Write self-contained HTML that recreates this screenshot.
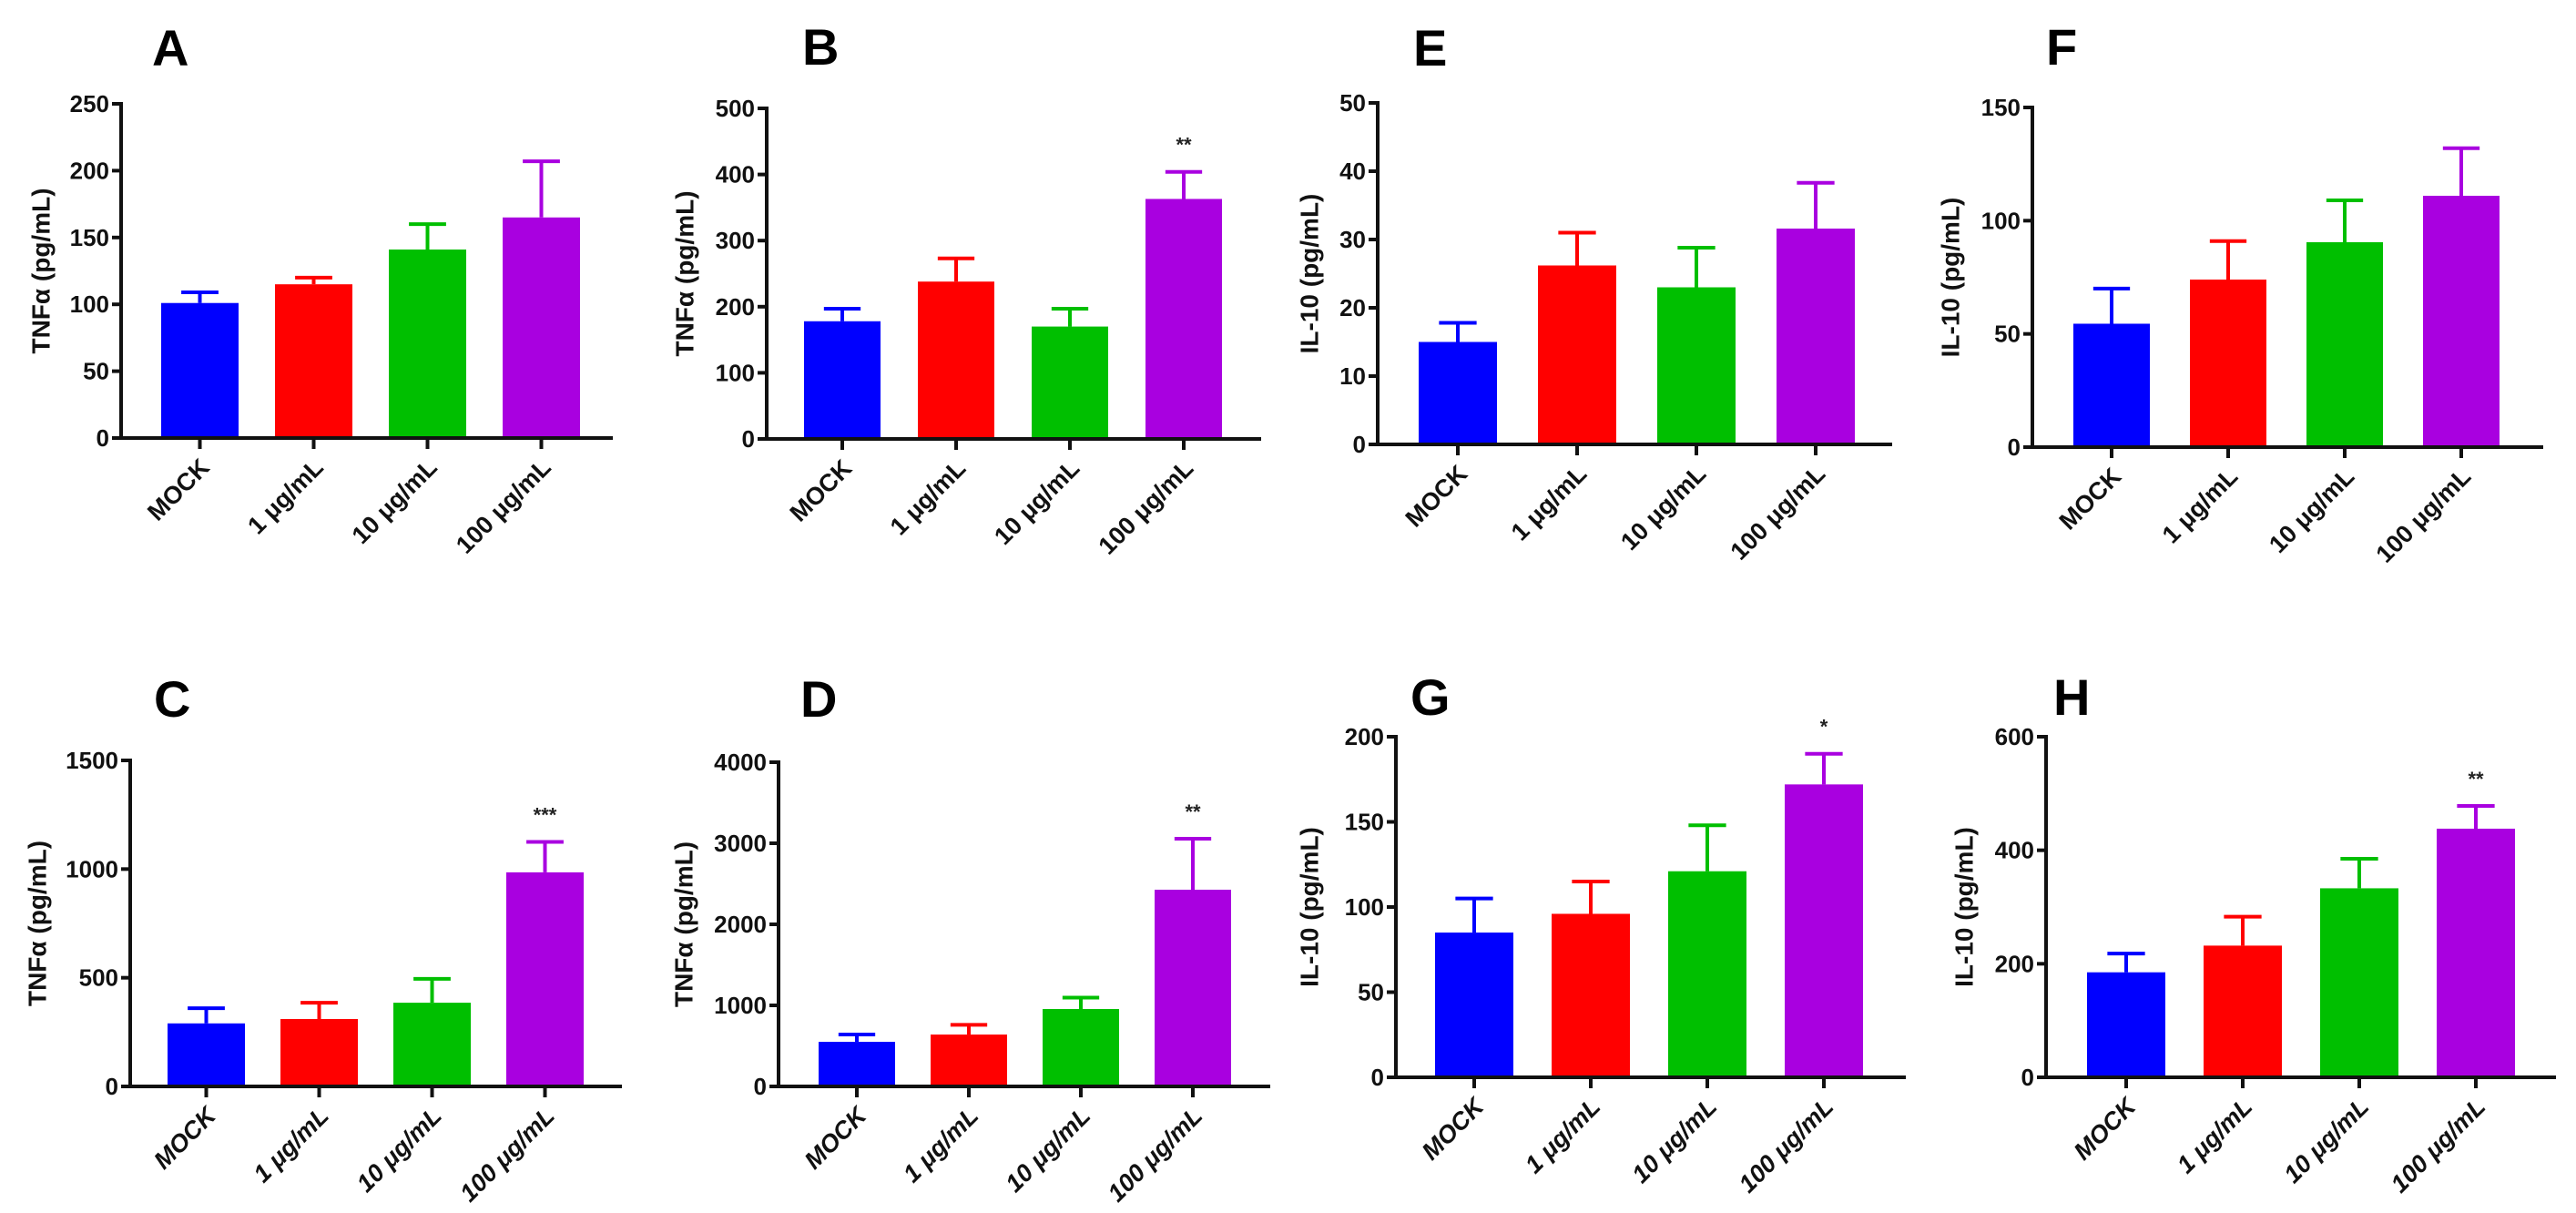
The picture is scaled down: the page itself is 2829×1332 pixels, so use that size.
<!DOCTYPE html>
<html><head><meta charset="utf-8">
<style>
html,body{margin:0;padding:0;background:#fff;}
svg{display:block;font-family:"Liberation Sans",Arial,sans-serif;}
.tick{font-size:26px;font-weight:bold;fill:#111;}
.ytitle{font-size:28px;font-weight:bold;fill:#111;}
.xl{font-size:27px;font-weight:bold;fill:#111;}
.xli{font-size:27px;font-weight:bold;font-style:italic;fill:#111;}
.letter{font-size:56px;font-weight:bold;fill:#000;}
.star{font-size:22px;font-weight:bold;fill:#222;}
</style></head>
<body>
<svg id="fig" width="2829" height="1332" viewBox="0 0 2829 1332" xmlns="http://www.w3.org/2000/svg"></svg>
<script>
const categories = ["MOCK", "1 μg/mL", "10 μg/mL", "100 μg/mL"];
const colors = ["#0000ff", "#ff0000", "#00bf00", "#a900e0"];
const meanA = [101, 115, 141, 165];
const errA  = [109, 120, 160, 207];
const meanB = [178, 238, 170, 363];
const errB  = [197, 273, 197, 404];
const meanC = [290, 310, 385, 985];
const errC  = [360, 385, 495, 1125];
const meanD = [550, 640, 955, 2427];
const errD  = [640, 760, 1095, 3056];
const meanE = [15, 26.2, 23, 31.6];
const errE  = [17.8, 31, 28.8, 38.3];
const meanF = [54.5, 74, 90.5, 111];
const errF  = [70, 91, 109, 132];
const meanG = [85, 96, 121, 172];
const errG  = [105, 115, 148, 190];
const meanH = [185, 232, 333, 438];
const errH  = [218, 283, 385, 478];
const ticksA = [0, 50, 100, 150, 200, 250];
const ticksB = [0, 100, 200, 300, 400, 500];
const ticksC = [0, 500, 1000, 1500];
const ticksD = [0, 1000, 2000, 3000, 4000];
const ticksE = [0, 10, 20, 30, 40, 50];
const ticksF = [0, 50, 100, 150];
const ticksG = [0, 50, 100, 150, 200];
const ticksH = [0, 200, 400, 600];
const starsA = "", starsB = "**", starsC = "***", starsD = "**", starsE = "", starsF = "", starsG = "*", starsH = "**";

const panels = [
 {id:"A", mean:meanA, err:errA, ticks:ticksA, stars:starsA, title:"TNFα (pg/mL)", ax:133, top:114, zero:481, right:673, pitch:125, bw:85, off:44, lx:167, ly:72, tx:47, it:false},
 {id:"B", mean:meanB, err:errB, ticks:ticksB, stars:starsB, title:"TNFα (pg/mL)", ax:842, top:119, zero:482, right:1385, pitch:125, bw:84, off:41, lx:881, ly:71, tx:754, it:false},
 {id:"E", mean:meanE, err:errE, ticks:ticksE, stars:starsE, title:"IL-10 (pg/mL)", ax:1513, top:113, zero:488, right:2078, pitch:131, bw:86, off:45, lx:1552, ly:72, tx:1440, it:false},
 {id:"F", mean:meanF, err:errF, ticks:ticksF, stars:starsF, title:"IL-10 (pg/mL)", ax:2232, top:118, zero:491, right:2793, pitch:128, bw:84, off:45, lx:2247, ly:71, tx:2144, it:false},
 {id:"C", mean:meanC, err:errC, ticks:ticksC, stars:starsC, title:"TNFα (pg/mL)", ax:143, top:835, zero:1193, right:683, pitch:124, bw:85, off:41, lx:169, ly:787, tx:43, it:true},
 {id:"D", mean:meanD, err:errD, ticks:ticksD, stars:starsD, title:"TNFα (pg/mL)", ax:855, top:837, zero:1193, right:1395, pitch:123, bw:84, off:44, lx:879, ly:787, tx:753, it:true},
 {id:"G", mean:meanG, err:errG, ticks:ticksG, stars:starsG, title:"IL-10 (pg/mL)", ax:1533, top:809, zero:1183, right:2093, pitch:128, bw:86, off:43, lx:1549, ly:785, tx:1440, it:true},
 {id:"H", mean:meanH, err:errH, ticks:ticksH, stars:starsH, title:"IL-10 (pg/mL)", ax:2247, top:809, zero:1183, right:2807, pitch:128, bw:86, off:45, lx:2255, ly:785, tx:2159, it:true}
];

const NS = "http://www.w3.org/2000/svg";
const svg = document.getElementById("fig");
function mk(tag, attrs, parent, text){
  const e = document.createElementNS(NS, tag);
  for (const k in attrs) e.setAttribute(k, attrs[k]);
  if (text !== undefined) e.textContent = text;
  parent.appendChild(e);
  return e;
}
const slug = s => s.toLowerCase().replace(/μ/g,"ug").replace(/[^a-z0-9]+/g,"-").replace(/^-|-$/g,"");

panels.forEach(p => {
  const g = mk("g", {}, svg);
  
  
  const maxV = p.ticks[p.ticks.length - 1];
  const y = v => p.zero - (v / maxV) * (p.zero - p.top);
  const cx = i => p.ax + p.off + i * p.pitch + p.bw / 2;

  const L = mk("text", {x:p.lx, y:p.ly, class:"letter"}, g, p.id);
  
  

  // bars + error bars
  p.mean.forEach((m, i) => {
    const c = colors[i];
    const bar = mk("rect", {x:cx(i) - p.bw/2, y:y(m), width:p.bw, height:p.zero - y(m), fill:c}, g);
    
    
    const eb = mk("path", {d:`M${cx(i)},${y(m)} V${y(p.err[i])} M${cx(i)-p.bw*0.24},${y(p.err[i])} H${cx(i)+p.bw*0.24}`, stroke:c, "stroke-width":4, fill:"none"}, g);
    
    
  });

  if (p.stars) {
    const st = mk("text", {x:cx(3), y:y(p.err[3]) - 22, class:"star", "text-anchor":"middle"}, g, p.stars);
    
    
  }

  // y axis
  const ya = mk("path", {d:`M${p.ax},${p.top - 2} V${p.zero}`, stroke:"#111", "stroke-width":4, fill:"none"}, g);
  
  
  p.ticks.forEach(t => {
    const tk = mk("path", {d:`M${p.ax - 10},${y(t)} H${p.ax}`, stroke:"#111", "stroke-width":4}, g);
    
    
    const tl = mk("text", {x:p.ax - 13, y:y(t) + 9, class:"tick", "text-anchor":"end"}, g, String(t));
    
    
  });
  const midY = (p.top + p.zero) / 2;
  const yt = mk("text", {x:p.tx, y:midY, class:"ytitle", "text-anchor":"middle", transform:`rotate(-90 ${p.tx} ${midY})`, "dominant-baseline":"middle"}, g, p.title);
  
  

  // x axis
  const xa = mk("path", {d:`M${p.ax - 2},${p.zero} H${p.right}`, stroke:"#111", "stroke-width":4, fill:"none"}, g);
  
  
  categories.forEach((cat, i) => {
    const tk = mk("path", {d:`M${cx(i)},${p.zero} V${p.zero + 12}`, stroke:"#111", "stroke-width":4}, g);
    
    
    const lx = cx(i) + 12, ly = p.zero + 34;
    const xl = mk("text", {x:lx, y:ly, class:p.it ? "xli" : "xl", "text-anchor":"end", transform:`rotate(-45 ${lx} ${ly})`}, g, cat);
    
    
  });
});
</script>
</body></html>
